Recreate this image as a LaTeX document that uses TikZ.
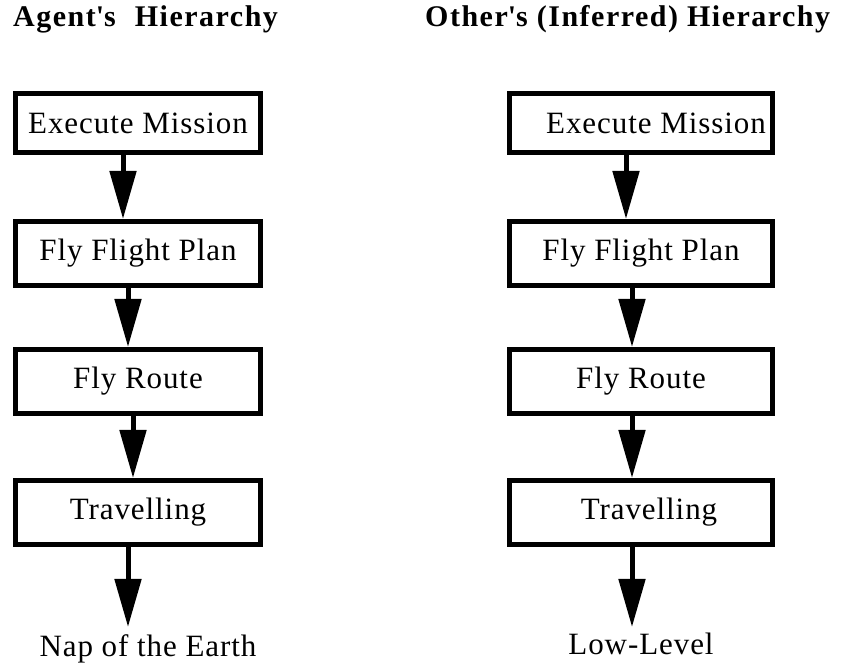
\documentclass[tikz,border=0pt]{standalone}
\usepackage{fontspec}
\setmainfont{Liberation Serif}[LetterSpace=3]
\usepackage{tikz}
\usetikzlibrary{arrows.meta,positioning}

\tikzset{
    task/.style={draw, line width=5pt, minimum width=245pt, minimum height=64pt, inner sep=0pt, font=\fontsize{31}{34}\selectfont},
    leaf/.style={anchor=base, inner sep=0pt, font=\fontsize{31}{34}\selectfont},
    heading/.style={anchor=base west, inner sep=0pt, font=\fontsize{30}{34}\selectfont\bfseries\addfontfeature{LetterSpace=5}},
    down/.style={line width=5pt, -{Triangle[length=48pt,width=26pt]}}
}

\begin{document}
\begin{tikzpicture}[x=1pt,y=1pt]
    \useasboundingbox (0,0) rectangle (841,663);

    % headings
    \node[heading] (agenthead) at (13,636) {Agent\textquotesingle s\hspace{10pt} Hierarchy};
    \node[heading] (otherhead) at (425,636) {Other\textquotesingle s (Inferred) Hierarchy};

    % agent's column
    \node[task, minimum height=59pt] (amission) at (138,540) {Execute Mission};
    \node[task] (aplan) at (138,409.5) {Fly Flight Plan};
    \node[task] (aroute) at (138,281.5) {Fly Route};
    \node[task] (atravel) at (138,150.5) {Travelling};
    \node[leaf] (aleaf) at (148,6) {Nap of the Earth};

    \draw[down] ([xshift=-15pt]amission.south) -- ([xshift=-15pt]aplan.north);
    \draw[down] ([xshift=-10pt]aplan.south) -- ([xshift=-10pt]aroute.north);
    \draw[down] ([xshift=-5pt]aroute.south) -- ([xshift=-5pt]atravel.north);
    \draw[down] ([xshift=-10pt]atravel.south) -- ([xshift=-10pt]atravel.south |- 0,36);

    % other's column
    \node[task, minimum width=263pt, minimum height=59pt] (omission) at (641,540) {\hspace*{30pt}Execute Mission};
    \node[task, minimum width=263pt] (oplan) at (641,409.5) {Fly Flight Plan};
    \node[task, minimum width=263pt] (oroute) at (641,281.5) {Fly Route};
    \node[task, minimum width=263pt] (otravel) at (641,150.5) {\hspace*{16pt}Travelling};
    \node[leaf] (oleaf) at (641,8) {Low-Level};

    \draw[down] ([xshift=-15pt]omission.south) -- ([xshift=-15pt]oplan.north);
    \draw[down] ([xshift=-9pt]oplan.south) -- ([xshift=-9pt]oroute.north);
    \draw[down] ([xshift=-9pt]oroute.south) -- ([xshift=-9pt]otravel.north);
    \draw[down] ([xshift=-9pt]otravel.south) -- ([xshift=-9pt]otravel.south |- 0,36);
\end{tikzpicture}
\end{document}
